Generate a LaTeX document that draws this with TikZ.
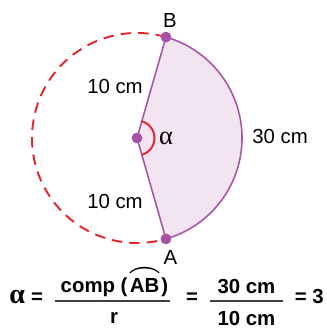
\documentclass[tikz,border=0pt]{standalone}
\usepackage{fontspec}
\usepackage{amsmath,amssymb}
\usepackage{graphicx}
\usepackage{tikz}
\usetikzlibrary{calc,positioning}
\setmainfont{Liberation Sans}
\newfontfamily\greekfont{Liberation Serif}
\definecolor{arcred}{RGB}{230,35,45}
\definecolor{sectorline}{RGB}{170,85,168}
\definecolor{sectorfill}{RGB}{242,228,241}
\definecolor{dotpurple}{RGB}{168,80,165}
\newcommand{\arcAB}{\ensuremath{\overset{\raisebox{-0.35ex}{\scalebox{1.4}[1.1]{$\boldsymbol{\frown}$}}}{\text{AB}}}}

\begin{document}
\begin{tikzpicture}[x=0.02cm,y=0.02cm,
  lbl/.style={font=\fontsize{11.6}{14}\selectfont,inner sep=0pt},
  eqn/.style={font=\fontsize{11.6}{14}\selectfont\bfseries,inner sep=0pt,anchor=base},
  barline/.style={black!75,line width=0.7pt}]
\useasboundingbox (0,0) rectangle (326,328);
\coordinate (O) at (137,190);
\coordinate (B) at ($(O)+(74:105)$);
\coordinate (A) at ($(O)+(-74:105)$);
\filldraw[fill=sectorfill,draw=sectorline,line width=0.9pt] (O) -- (B) arc[start angle=74,end angle=-74,radius=105] -- cycle;
\draw[arcred,line width=1.1pt,dash pattern=on 6pt off 4pt] (B) arc[start angle=74,end angle=286,radius=105];
\draw[arcred,line width=1.1pt] ($(O)+(-74:17.5)$) arc[start angle=-74,end angle=74,radius=17.5];
\filldraw[dotpurple] (O) circle (5);
\filldraw[dotpurple] (B) circle (5);
\filldraw[dotpurple] (A) circle (5);
\node[lbl] (labB) at (170,308) {B};
\node[lbl] (labA) at (170.5,71) {A};
\node[lbl] (radB) at (115,242) {10 cm};
\node[lbl] (radA) at (115,127) {10 cm};
\node[lbl] (arclen) at (280,191.5) {30 cm};
\node[lbl,font=\fontsize{15}{16}\selectfont] (ang) at (166,190) {\greekfont α};
\node[eqn,anchor=base west,font=\fontsize{16}{18}\selectfont\bfseries] (alf) at (9,25) {\greekfont α};
\node[eqn] (eqA) at (37,25) {=};
\node[eqn] (numA) at (114.5,35) {comp (\arcAB)};
\node[eqn] (denA) at (114,5) {r};
\draw[barline] (55,27) -- (170,27);
\node[eqn] (eqB) at (192,25) {=};
\node[eqn] (numB) at (246.5,34) {30 cm};
\node[eqn] (denB) at (246.5,3) {10 cm};
\draw[barline] (210,27) -- (283,27);
\node[eqn,anchor=base east] (res) at (324,25) {= 3};
\end{tikzpicture}
\end{document}
